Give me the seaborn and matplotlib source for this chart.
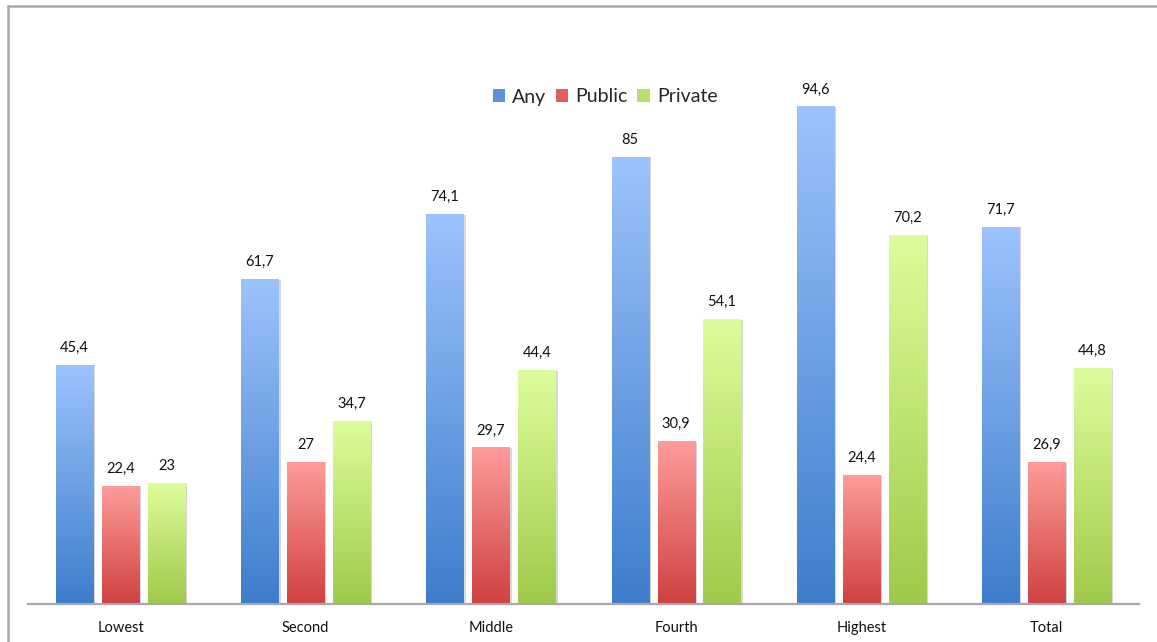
import numpy as np
import pandas as pd
import matplotlib
matplotlib.use("Agg")
import matplotlib.pyplot as plt
from matplotlib.colors import LinearSegmentedColormap
from matplotlib.lines import Line2D
from matplotlib.patches import Patch
import seaborn as sns

groups = ["Lowest", "Second", "Middle", "Fourth", "Highest", "Total"]
series = ["Any", "Public", "Private"]
any_vals = [45.4, 61.7, 74.1, 85.0, 94.6, 71.7]
public_vals = [22.4, 27.0, 29.7, 30.9, 24.4, 26.9]
private_vals = [23.0, 34.7, 44.4, 54.1, 70.2, 44.8]

# top (light) and bottom (dark) colours of each series' gradient
grad_top = {"Any": "#9cc3fd", "Public": "#fd9c9a", "Private": "#dcfd9c"}
grad_bottom = {"Any": "#3e7dcc", "Public": "#d04140", "Private": "#9fca48"}
legend_colors = {"Any": "#5b92dc", "Public": "#e06060", "Private": "#b8de6c"}

df = pd.DataFrame({
    "group": np.repeat(groups, 3),
    "series": series * len(groups),
    "value": [v for trio in zip(any_vals, public_vals, private_vals) for v in trio],
})

sns.set_style("white")
plt.rcParams["font.family"] = ["Lato", "DejaVu Sans"]

fig = plt.figure(figsize=(11.57, 6.42), dpi=100)
ax = fig.add_axes([28 / 1157, 38 / 642, (1139 - 28) / 1157, (604 - 78.6) / 642])

sns.barplot(data=df, x="group", y="value", hue="series", order=groups,
            hue_order=series, width=0.744, gap=0.194, ax=ax, legend=False,
            palette=legend_colors, saturation=1)

ax.set_xlim(-0.5, len(groups) - 0.5)
ax.set_ylim(0, 100)

# Replace flat fills with vertical gradients and write value labels
grad = np.linspace(1, 0, 256).reshape(-1, 1)
for container, name in zip(ax.containers, series):
    cmap = LinearSegmentedColormap.from_list(name, [grad_bottom[name], grad_top[name]])
    for bar, val in zip(container, container.datavalues):
        x0, w, h = bar.get_x(), bar.get_width(), bar.get_height()
        # soft shadow to the right of each bar
        ax.add_patch(plt.Rectangle((x0 + w, 0), 0.012, h, color="#d8d8d8",
                                   lw=0, zorder=1))
        bar.set_facecolor("none")
        bar.set_edgecolor("none")
        ax.imshow(grad, extent=[x0, x0 + w, 0, h], cmap=cmap, aspect="auto",
                  interpolation="bicubic", zorder=2)
        txt = f"{val:g}".replace(".", ",")
        ax.text(x0 + w / 2, h + 2.0, txt, ha="center", va="bottom",
                fontsize=10.5, color="#111111")

ax.set_xlim(-0.5, len(groups) - 0.5)
ax.set_ylim(0, 100)

for side in ["top", "right", "left"]:
    ax.spines[side].set_visible(False)
ax.spines["bottom"].set_color("#a8a8a8")
ax.spines["bottom"].set_linewidth(1.6)
ax.spines["bottom"].set_zorder(5)
ax.set_yticks([])
ax.set_xlabel("")
ax.set_ylabel("")
ax.tick_params(axis="x", length=0, pad=12, labelsize=10.5, labelcolor="#111111")

handles = [Patch(facecolor=legend_colors[s], edgecolor="none") for s in series]
fig.legend(handles, series, loc="center", bbox_to_anchor=(605 / 1157, 1 - 97 / 642),
           ncol=3, frameon=False, fontsize=14, handlelength=0.65, handleheight=0.65,
           handletextpad=0.35, columnspacing=0.5)

# frame around the chart area
fig.add_artist(Line2D([7.5 / 1157, 7.5 / 1157], [0, 1 - 5.5 / 642],
                      transform=fig.transFigure, color="#aaaaaa", lw=1.8))
fig.add_artist(Line2D([7.5 / 1157, 1], [1 - 5.5 / 642, 1 - 5.5 / 642],
                      transform=fig.transFigure, color="#aaaaaa", lw=1.8))

fig.savefig("out.png", dpi=100)
